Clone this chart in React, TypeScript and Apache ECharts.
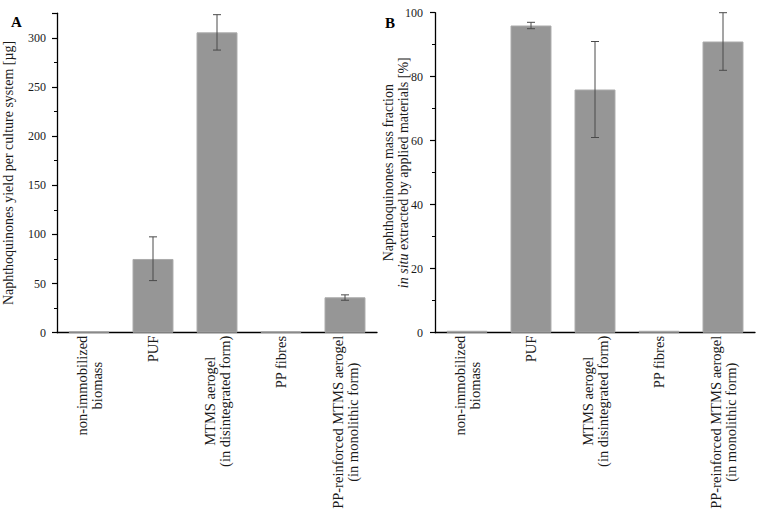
import React, { useEffect, useRef } from "react";
import * as echarts from "echarts";

const categories = [
  "non-immobilized\nbiomass",
  "PUF",
  "MTMS aerogel\n(in disintegrated form)",
  "PP fibres",
  "PP-reinforced MTMS aerogel\n(in monolithic form)",
];

const yieldValues = [1.5, 75, 305.5, 1.5, 36];
const yieldLow = [1.5, 53, 287.5, 1.5, 33];
const yieldHigh = [1.5, 97.5, 323.5, 1.5, 38.5];

const fractionValues = [0.6, 96, 76, 0.6, 91];
const fractionLow = [0.6, 95, 61, 0.6, 82];
const fractionHigh = [0.6, 97, 91, 0.6, 100];

const FONT = "Liberation Serif";
const TEXT = "#1a1a1a";

function errData(low: number[], high: number[]) {
  return low.map((l, i) => [i, l, high[i]]);
}

function renderErr(params: any, api: any) {
  const i = api.value(0);
  const lo = api.coord([i, api.value(1)]);
  const hi = api.coord([i, api.value(2)]);
  if (Math.abs(lo[1] - hi[1]) < 0.5) return { type: "group", children: [] };
  const cap = 4;
  const style = { stroke: "#4a4a4a", lineWidth: 1 };
  return {
    type: "group",
    children: [
      { type: "line", shape: { x1: hi[0], y1: hi[1], x2: lo[0], y2: lo[1] }, style },
      { type: "line", shape: { x1: hi[0] - cap, y1: hi[1], x2: hi[0] + cap, y2: hi[1] }, style },
      { type: "line", shape: { x1: lo[0] - cap, y1: lo[1], x2: lo[0] + cap, y2: lo[1] }, style },
    ],
  };
}

function xAxis(gridIndex: number) {
  return {
    type: "category",
    gridIndex,
    data: categories,
    axisLine: { lineStyle: { color: "#000", width: 1.3 } },
    axisTick: { show: false },
    axisLabel: {
      interval: 0,
      rotate: 90,
      margin: 3,
      hideOverlap: false,
      formatter: (v: string) =>
        v
          .split("\n")
          .map((s) => `{c|${s}}`)
          .join("\n"),
      rich: {
        c: {
          align: "center",
          fontFamily: FONT,
          fontSize: 14.5,
          color: TEXT,
          lineHeight: 15,
        },
      },
    },
  };
}

function yAxisBase(gridIndex: number) {
  return {
    type: "value",
    gridIndex,
    min: 0,
    splitLine: { show: false },
    axisLine: { show: true, lineStyle: { color: "#000", width: 1.3 } },
    axisTick: { show: true, length: 5, lineStyle: { color: "#000", width: 1.2 } },
    minorTick: { show: true, splitNumber: 2, length: 3, lineStyle: { color: "#000", width: 1 } },
    nameLocation: "middle",
    nameRotate: 90,
  };
}

export default function App() {
  const ref = useRef<HTMLDivElement>(null);
  useEffect(() => {
    if (!ref.current) return;
    const chart = echarts.init(ref.current, undefined, { renderer: "svg" });
    chart.setOption({
      animation: false,
      textStyle: { fontFamily: FONT },
      grid: [
        { left: 57, top: 13.2, width: 320, height: 319.5 },
        { left: 435, top: 12.7, width: 320, height: 320 },
      ],
      xAxis: [xAxis(0), xAxis(1)],
      yAxis: [
        {
          ...yAxisBase(0),
          max: 325,
          interval: 50,
          axisLabel: {
            showMaxLabel: false,
            margin: 11,
            fontFamily: FONT,
            fontSize: 12,
            color: TEXT,
          },
          name: "Naphthoquinones yield per culture system [µg]",
          nameGap: 42,
          nameTextStyle: { fontFamily: FONT, fontSize: 14, color: TEXT },
        },
        {
          ...yAxisBase(1),
          max: 100,
          interval: 20,
          axisLabel: { margin: 12, fontFamily: FONT, fontSize: 12, color: TEXT },
          name: "Naphthoquinones mass fraction\n{i|in situ} extracted by applied materials [%]",
          nameGap: 24,
          nameMoveOverlap: false,
          nameTextStyle: {
            fontFamily: FONT,
            fontSize: 14,
            color: TEXT,
            lineHeight: 15,
            rich: {
              i: { fontStyle: "italic", fontFamily: FONT, fontSize: 14, color: TEXT, lineHeight: 15 },
            },
          },
        },
      ],
      series: [
        {
          type: "bar",
          xAxisIndex: 0,
          yAxisIndex: 0,
          data: yieldValues,
          barWidth: "64%",
          itemStyle: { color: "#969696", borderColor: "#aaaaaa", borderWidth: 1 },
        },
        {
          type: "custom",
          xAxisIndex: 0,
          yAxisIndex: 0,
          data: errData(yieldLow, yieldHigh),
          renderItem: renderErr,
          z: 5,
        },
        {
          type: "bar",
          xAxisIndex: 1,
          yAxisIndex: 1,
          data: fractionValues,
          barWidth: "64%",
          itemStyle: { color: "#969696", borderColor: "#aaaaaa", borderWidth: 1 },
        },
        {
          type: "custom",
          xAxisIndex: 1,
          yAxisIndex: 1,
          data: errData(fractionLow, fractionHigh),
          renderItem: renderErr,
          z: 5,
        },
      ],
      graphic: [
        {
          type: "text",
          left: 11,
          top: 14,
          style: { text: "A", fontFamily: FONT, fontSize: 15, fontWeight: "bold", fill: "#000" },
        },
        {
          type: "text",
          left: 385,
          top: 15,
          style: { text: "B", fontFamily: FONT, fontSize: 15, fontWeight: "bold", fill: "#000" },
        },
      ],
    });
    return () => chart.dispose();
  }, []);
  return (
    <div
      ref={ref}
      style={{ position: "fixed", left: 0, top: 0, width: 767, height: 515, background: "#fff" }}
    />
  );
}
